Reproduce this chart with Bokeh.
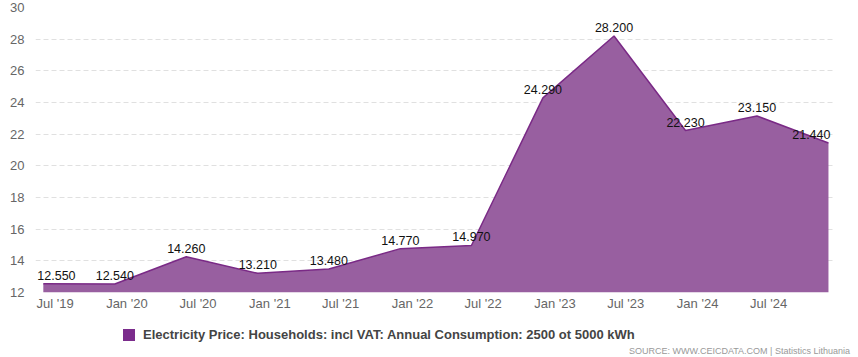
import pandas as pd
from bokeh.plotting import figure
from bokeh.layouts import column
from bokeh.models import (ColumnDataSource, FixedTicker, DatetimeTickFormatter, Range1d, Div)
from bokeh.embed import file_html
from bokeh.resources import INLINE

# ---- data ----
dates = ["2019-06-01", "2019-12-01", "2020-06-01", "2020-12-01", "2021-06-01", "2021-12-01",
         "2022-06-01", "2022-12-01", "2023-06-01", "2023-12-01", "2024-06-01", "2024-12-01"]
values = [12.55, 12.54, 14.26, 13.21, 13.48, 14.77, 14.97, 24.29, 28.20, 22.23, 23.15, 21.44]
labels = ["12.550", "12.540", "14.260", "13.210", "13.480", "14.770",
          "14.970", "24.290", "28.200", "22.230", "23.150", "21.440"]
tick_dates = ["2019-07-01", "2020-01-01", "2020-07-01", "2021-01-01", "2021-07-01", "2022-01-01",
              "2022-07-01", "2023-01-01", "2023-07-01", "2024-01-01", "2024-07-01"]
y_ticks = [12, 14, 16, 18, 20, 22, 24, 26, 28, 30]
series_name = "Electricity Price: Households: incl VAT: Annual Consumption: 2500 ot 5000 kWh"
source_text = "SOURCE: WWW.CEICDATA.COM | Statistics Lithuania"

FONT = "Liberation Sans"
y_min, y_max = 12, 30

x = pd.to_datetime(dates)
n = len(values)
aligns = ["center"] * n
aligns[0] = "left"
aligns[-1] = "right"
xoffs = [0] * n
xoffs[0] = -6
xoffs[-1] = 2

src = ColumnDataSource(dict(x=x, y=values, base=[y_min] * n, lab=labels,
                            align=aligns, xo=xoffs))

p = figure(width=850, height=313, x_axis_type="datetime", output_backend="svg",
           toolbar_location=None,
           x_range=Range1d(pd.Timestamp("2019-05-12"), pd.Timestamp("2024-12-19")),
           y_range=Range1d(y_min, y_max),
           min_border_left=35, min_border_right=15, min_border_top=7, min_border_bottom=20)
p.outline_line_color = None
p.background_fill_color = "white"

p.varea(x="x", y1="base", y2="y", source=src, fill_color="#985fa0", fill_alpha=1.0)
p.line(x="x", y="y", source=src, line_color="#7a2a86", line_width=1.5)
p.text(x="x", y="y", text="lab", source=src, text_align="align", x_offset="xo",
       text_baseline="bottom", y_offset=-4, text_font_size="12.5px", text_color="#111111",
       text_font={"value": FONT})

# axes
p.xaxis.ticker = FixedTicker(ticks=[pd.Timestamp(d).value // 10**6 for d in tick_dates])
p.xaxis.formatter = DatetimeTickFormatter(days="%b '%y", months="%b '%y", years="%b '%y")
p.yaxis.ticker = FixedTicker(ticks=y_ticks)
for ax in (p.xaxis, p.yaxis):
    ax.axis_line_color = None
    ax.major_tick_line_color = None
    ax.minor_tick_line_color = None
    ax.major_tick_out = 0
    ax.major_tick_in = 0
    ax.minor_tick_out = 0
    ax.minor_tick_in = 0
    ax.major_label_text_color = "#666666"
    ax.major_label_text_font = FONT
    ax.major_label_text_font_size = "13px"
p.xaxis.major_label_standoff = 3
p.yaxis.major_label_standoff = 11
p.xgrid.grid_line_color = None
p.ygrid.ticker = FixedTicker(ticks=y_ticks)
p.ygrid.grid_line_color = "#e0e0e0"
p.ygrid.grid_line_dash = "5 3"

# legend + source as HTML below the plot
html = (
    '<div style="position:relative;width:850px;height:36px;font-family:\'Liberation Sans\',Arial,sans-serif;">'
    '<div style="position:absolute;left:123px;top:16px;width:12px;height:12px;background:#7b2c8c;"></div>'
    '<div style="position:absolute;left:143px;top:14px;font-size:13px;font-weight:bold;color:#444444;'
    'white-space:nowrap;line-height:16px;">' + series_name + '</div>'
    '<div style="position:absolute;right:0px;top:33px;font-size:9px;color:#999999;'
    'white-space:nowrap;line-height:10px;">' + source_text + '</div>'
    '</div>'
)
div = Div(text=html, width=850, height=36, margin=0)

layout = column(p, div, spacing=0)
open("out.html", "w").write(file_html(layout, INLINE))
